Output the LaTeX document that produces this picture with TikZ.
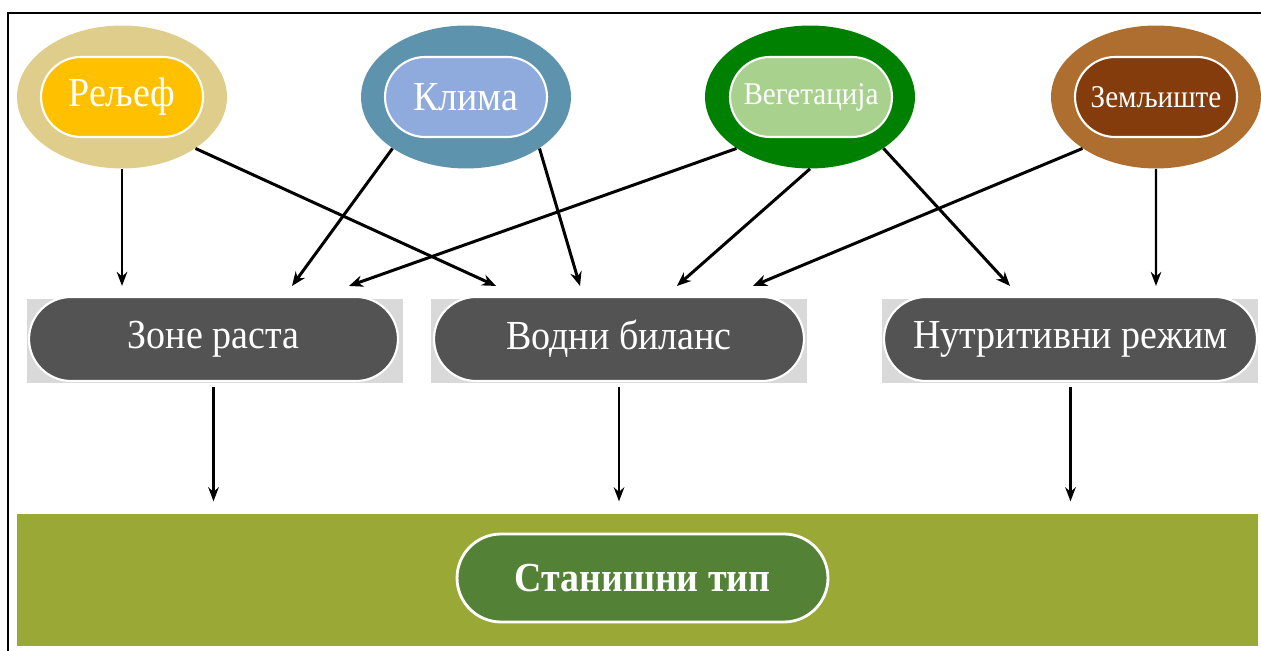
\documentclass[tikz,border=0pt]{standalone}
\usepackage{fontspec}
\setmainfont{Liberation Serif}[FakeStretch=0.92]
\definecolor{reliefout}{RGB}{223,205,139}
\definecolor{reliefin}{RGB}{255,192,0}
\definecolor{climout}{RGB}{94,147,173}
\definecolor{climin}{RGB}{143,170,220}
\definecolor{vegout}{RGB}{0,128,0}
\definecolor{vegin}{RGB}{169,209,142}
\definecolor{soilout}{RGB}{174,110,48}
\definecolor{soilin}{RGB}{132,60,12}
\definecolor{boxdark}{RGB}{83,83,83}
\definecolor{boxshade}{RGB}{217,217,217}
\definecolor{bandolive}{RGB}{154,169,54}
\definecolor{banddark}{RGB}{83,129,53}
\usetikzlibrary{arrows.meta,positioning,shapes.geometric,calc}

\begin{document}
\begin{tikzpicture}[x=0.02cm, y=-0.02cm,
  factor/.style={ellipse, inner sep=0pt, minimum width=4.2cm, minimum height=2.86cm},
  pill/.style={rectangle, rounded corners=0.8cm, draw=white, line width=1.2pt,
    minimum width=3.24cm, minimum height=1.6cm, inner sep=0pt, text=white},
  backing/.style={rectangle, fill=boxshade, inner sep=0pt, minimum width=7.52cm, minimum height=1.68cm},
  stage/.style={rectangle, rounded corners=0.84cm, fill=boxdark, draw=white, line width=1.2pt,
    minimum height=1.68cm, inner sep=0pt, text=white, font=\fontsize{23.5}{28}\selectfont},
  arr/.style={-{Stealth[length=8pt,width=6.5pt]}, line width=1.7pt, black},
  arrv/.style={-{Stealth[length=8pt,width=6pt]}, line width=1.4pt, black}]
\useasboundingbox (0,0) rectangle (1261,651);
% frame
\draw[line width=1.1pt] (8,651) -- (8,13) -- (1261,13);
% factors
\node[factor, fill=reliefout] (relief) at (122,97) {};
\node[pill, fill=reliefin, font=\fontsize{23.5}{28}\selectfont] (reliefT) at (122,97) {Рељеф};
\node[factor, fill=climout] (klima) at (466,97) {};
\node[pill, fill=climin, font=\fontsize{23.5}{28}\selectfont] (klimaT) at (466,97) {Клима};
\node[factor, fill=vegout] (veg) at (810,97) {};
\node[pill, fill=vegin, font=\fontsize{18}{22}\selectfont] (vegT) at (811,97) {Вегетација};
\node[factor, fill=soilout] (zem) at (1156,97) {};
\node[pill, fill=soilin, font=\fontsize{18}{22}\selectfont] (zemT) at (1156,97) {Земљиште};
% middle row
\node[backing] (zoneB) at (215,341) {};
\node[stage, minimum width=7.38cm] (zone) at (213.5,339) {Зоне раста};
\node[backing] (vodniB) at (619,341) {};
\node[stage, minimum width=7.4cm] (vodni) at (619,339) {Водни биланс};
\node[backing] (nutriB) at (1070,341) {};
\node[stage, minimum width=7.46cm] (nutri) at (1070.5,339) {Нутритивни режим};
% bottom band
\node[rectangle, fill=bandolive, inner sep=0pt, minimum width=24.82cm, minimum height=2.64cm] (band) at (637.5,580) {};
\node[rectangle, rounded corners=0.88cm, fill=banddark, draw=white, line width=1.6pt,
  minimum width=7.42cm, minimum height=1.76cm, inner sep=0pt, text=white,
  font=\fontsize{23.5}{28}\selectfont\bfseries] (tip) at (642.5,578) {Станишни тип};
% arrows from factors
\draw[arrv] (relief.south) -- ($(zone.north)+(-91.5,-10)$);
\draw[arr] (relief.-35) -- ($(vodni.north)+(-123,-10)$);
\draw[arr] (klima.-145) -- ($(zone.north)+(78.5,-10)$);
\draw[arr] (klima.-35) -- ($(vodni.north)+(-39,-10)$);
\draw[arr] (veg.-145) -- ($(zone.north)+(135.5,-10)$);
\draw[arr] (veg.south) -- ($(vodni.north)+(58,-10)$);
\draw[arr] (veg.-35) -- ($(nutri.north)+(-60.5,-10)$);
\draw[arr] (zem.-145) -- ($(vodni.north)+(134,-10)$);
\draw[arrv] (zem.south) -- ($(nutri.north)+(85.5,-10)$);
% arrows to the band
\draw[arrv, shorten >=7pt] ([yshift=-3pt]zone.south) -- (zone.south |- band.north);
\draw[arrv, shorten >=7pt] ([yshift=-3pt]vodni.south) -- (vodni.south |- band.north);
\draw[arrv, shorten >=7pt] ([yshift=-3pt]nutri.south) -- (nutri.south |- band.north);
\end{tikzpicture}
\end{document}
